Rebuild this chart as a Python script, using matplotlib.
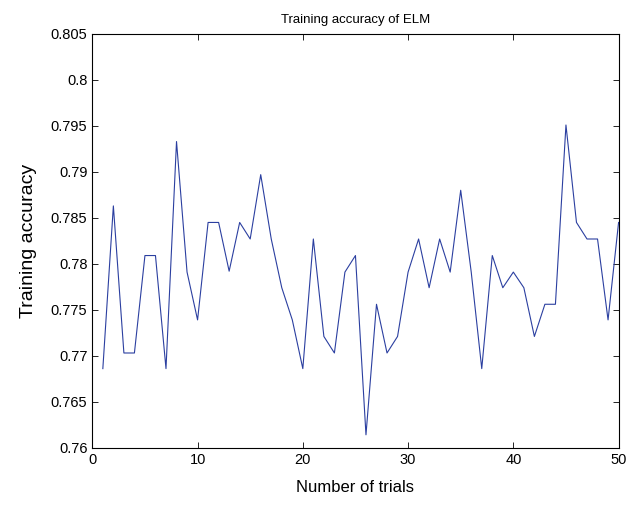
import matplotlib
matplotlib.use("Agg")
import matplotlib.pyplot as plt
import numpy as np

trials = list(range(1, 51))
accuracy = [
    0.7686, 0.7863, 0.7703, 0.7703, 0.7809, 0.7809, 0.7686, 0.7933, 0.7791, 0.7739,
    0.7845, 0.7845, 0.7792, 0.7845, 0.7827, 0.7897, 0.7827, 0.7774, 0.7739, 0.7686,
    0.7827, 0.7721, 0.7703, 0.7791, 0.7809, 0.7614, 0.7756, 0.7703, 0.7721, 0.7791,
    0.7827, 0.7774, 0.7827, 0.7791, 0.7880, 0.7791, 0.7686, 0.7809, 0.7774, 0.7791,
    0.7774, 0.7721, 0.7756, 0.7756, 0.7951, 0.7845, 0.7827, 0.7827, 0.7739, 0.7845,
]
xticks = [0, 10, 20, 30, 40, 50]
yticks = [0.76, 0.765, 0.77, 0.775, 0.78, 0.785, 0.79, 0.795, 0.8, 0.805]
ytick_labels = ["0.76", "0.765", "0.77", "0.775", "0.78", "0.785", "0.79", "0.795", "0.8", "0.805"]

plt.rcParams['font.family'] = ['Liberation Sans', 'DejaVu Sans']

fig = plt.figure(figsize=(6.28, 5.05), dpi=100)
ax = fig.add_axes([0.147, 0.1135, 0.838, 0.8192])
ax.plot(trials, accuracy, color='#2b3fa0', linewidth=0.8)
ax.set_xlim(0, 50)
ax.set_ylim(0.76, 0.805)
ax.set_xticks(xticks)
ax.set_yticks(yticks)
ax.set_yticklabels(ytick_labels)
ax.tick_params(direction='in', top=True, right=True, labelsize=10.5, length=4, width=0.6)
for s in ax.spines.values():
    s.set_linewidth(0.8)
ax.set_title("Training accuracy of ELM", fontsize=9.5, pad=8)
ax.set_xlabel("Number of trials", fontsize=12, labelpad=10)
ax.set_ylabel("Training accuracy", fontsize=14, labelpad=10)
fig.savefig("out.png", dpi=100)
